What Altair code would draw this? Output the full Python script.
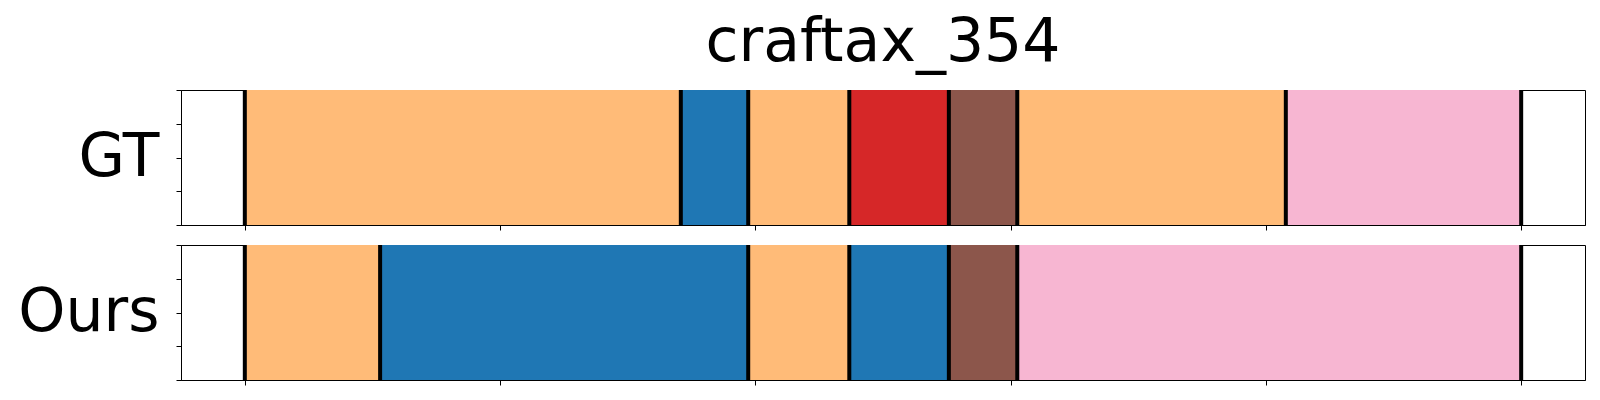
import altair as alt
import pandas as pd

# Segment data (frame indices)
gt_starts = [0, 85.4, 98.6, 118.4, 137.9, 151.3, 203.9]
gt_ends = [85.4, 98.6, 118.4, 137.9, 151.3, 203.9, 250]
gt_labels = ["A", "B", "A", "C", "D", "A", "E"]

ours_starts = [0, 26.5, 98.6, 118.4, 137.9, 151.3]
ours_ends = [26.5, 98.6, 118.4, 137.9, 151.3, 250]
ours_labels = ["A", "B", "A", "B", "D", "E"]

class_names = ["A", "B", "C", "D", "E"]
class_colors = ["#ffbb78", "#1f77b4", "#d62728", "#8c564b", "#f7b6d2"]

x_ticks = [0, 50, 100, 150, 200, 250]
y_ticks = [0, 0.25, 0.5, 0.75, 1]
x_domain = [-12.5, 262.5]

FONT = "DejaVu Sans"
W, H = 1404, 135


def panel(starts, ends, labels, name, title=None):
    seg = pd.DataFrame({"start": starts, "end": ends, "label": labels,
                        "y0": [0] * len(starts), "y1": [1] * len(starts)})
    bounds = pd.DataFrame({"b": list(starts) + [ends[-1]]})
    xs = alt.Scale(domain=x_domain, nice=False, zero=False)
    ys = alt.Scale(domain=[0, 1], nice=False)
    rects = alt.Chart(seg).mark_rect().encode(
        x=alt.X("start:Q", scale=xs,
                axis=alt.Axis(values=x_ticks, labels=False, title=None, tickSize=5,
                              grid=False, domainColor="black", tickColor="black")),
        x2="end:Q",
        y=alt.Y("y0:Q", scale=ys,
                axis=alt.Axis(values=y_ticks, labels=False, tickSize=5, grid=False,
                              domainColor="black", tickColor="black",
                              title=name, titleAngle=0, titleFontSize=60, titleFont=FONT,
                              titleFontWeight="normal", titleColor="black",
                              titleAlign="right", titleBaseline="middle",
                              titleX=-22, titleY=H / 2)),
        y2="y1:Q",
        color=alt.Color("label:N", scale=alt.Scale(domain=class_names, range=class_colors),
                        legend=None),
    )
    rules = alt.Chart(bounds).mark_rule(color="black", strokeWidth=4).encode(
        x=alt.X("b:Q", scale=xs)
    )
    ch = alt.layer(rects, rules).properties(width=W, height=H)
    if title:
        ch = ch.properties(title=alt.TitleParams(
            text=title, fontSize=60, font=FONT, fontWeight="normal", color="black",
            anchor="middle", frame="group", baseline="alphabetic", offset=-33))
    return ch


top = panel(gt_starts, gt_ends, gt_labels, "GT", title="craftax_354")
bottom = panel(ours_starts, ours_ends, ours_labels, "Ours")

chart = alt.vconcat(top, bottom, spacing=11).properties(
    padding={"left": 9, "top": 4, "right": 5, "bottom": 5}
).configure_view(stroke="black", strokeWidth=1)

chart.save("out.html", embed_options={"renderer": "svg", "actions": False})
